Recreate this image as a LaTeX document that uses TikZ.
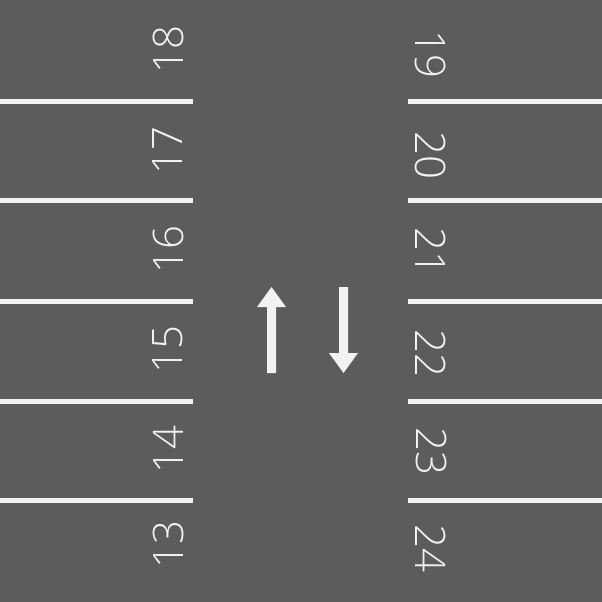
\documentclass[tikz,border=0pt]{standalone}
\usepackage{fontspec}
\newfontfamily\numfont{Open Sans}[UprightFont=* Light]
\definecolor{asphalt}{RGB}{92,92,92}
\definecolor{paint}{RGB}{242,242,242}
\begin{document}
\begin{tikzpicture}[x=1pt,y=-1pt,
  bay/.style={line width=5pt,draw=paint},
  num/.style={text=paint,font=\numfont\fontsize{42}{42}\selectfont,inner sep=0pt},
  numL/.style={num,rotate=90},
  numR/.style={num,rotate=-90},
  arrowbody/.style={fill=paint,draw=none}]
\fill[asphalt] (0,0) rectangle (602,602);
\useasboundingbox (0,0) rectangle (602,602);
% left bay lines
\foreach \y/\n in {101/a,200/b,301/c,401/d,500/e}{
  \coordinate (L\n1) at (0,\y);
  \coordinate (L\n2) at (193,\y);
  \coordinate (R\n1) at (408,\y);
  \coordinate (R\n2) at (602,\y);
  \draw[bay] (L\n1) -- (L\n2);
  \draw[bay] (R\n1) -- (R\n2);
}
% left numbers
\node[numL] (n18) at (168,50) {18};
\node[numL] (n17) at (168,151) {17};
\node[numL] (n16) at (168,250) {16};
\node[numL] (n15) at (168,350) {15};
\node[numL] (n14) at (168,450) {14};
\node[numL] (n13) at (168,545) {13};
% right numbers
\node[numR] (n19) at (431,54) {19};
\node[numR] (n20) at (431,155) {20};
\node[numR] (n21) at (431,251) {21};
\node[numR] (n22) at (431,353) {22};
\node[numR] (n23) at (431,451) {23};
\node[numR] (n24) at (431,548) {24};
% arrows
\fill[arrowbody] (267,373) -- (267,307) -- (257,307) -- (271.5,287) -- (286,307) -- (276,307) -- (276,373) -- cycle;
\fill[arrowbody] (339,287) -- (339,353) -- (329,353) -- (343.5,373) -- (358,353) -- (348,353) -- (348,287) -- cycle;
\end{tikzpicture}
\end{document}
